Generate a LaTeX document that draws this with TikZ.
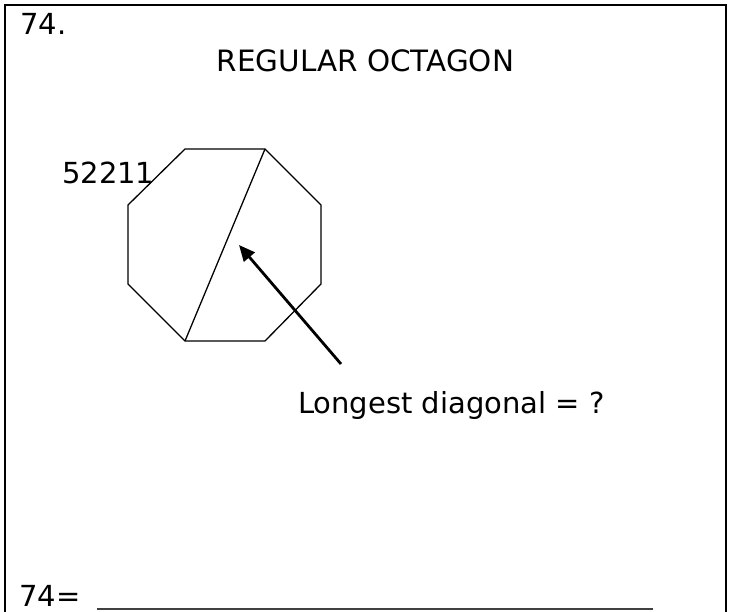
\documentclass[tikz,border=0pt]{standalone}
\usepackage{fontspec}
\setmainfont{DejaVu Sans}
\usetikzlibrary{arrows.meta}
\begin{document}
\begin{tikzpicture}[x=1pt,y=-1pt,
  lbl/.style={inner sep=0pt,anchor=base west,font=\fontsize{29}{35}\selectfont},
  shapeline/.style={line width=1.3pt,line join=miter},
  pointer/.style={line width=2.8pt,-{Triangle[length=16pt,width=14pt]}}]
\useasboundingbox (0,0) rectangle (736,612);
% frame
\draw[line width=2.5pt] (5,620) -- (5,5) -- (726,5) -- (726,620);
% texts
\node[lbl] (num) at (20,35) {74.};
\node[lbl,anchor=base,font=\fontsize{29.4}{35}\selectfont] (title) at (365.5,72) {REGULAR OCTAGON};
\node[lbl] (code) at (62,184) {52211};
\node[lbl] (q) at (298,413) {Longest diagonal = ?};
\node[lbl] (ans) at (19,606) {74=};
% answer line
\coordinate (ulA) at (97,609);
\coordinate (ulB) at (653,609);
\draw[line width=1.8pt,black!75] (ulA) -- (ulB);
% octagon
\coordinate (v1) at (185,149);
\coordinate (v2) at (265,149);
\coordinate (v3) at (321,205);
\coordinate (v4) at (321,284);
\coordinate (v5) at (265,341);
\coordinate (v6) at (185,341);
\coordinate (v7) at (128,284);
\coordinate (v8) at (128,205);
\draw[shapeline] (v1) -- (v2) -- (v3) -- (v4) -- (v5) -- (v6) -- (v7) -- (v8) -- cycle;
\draw[shapeline] (v2) -- (v6);
% arrow
\coordinate (tail) at (341,364);
\coordinate (tip) at (239,245);
\draw[pointer] (tail) -- (tip);
\end{tikzpicture}
\end{document}
